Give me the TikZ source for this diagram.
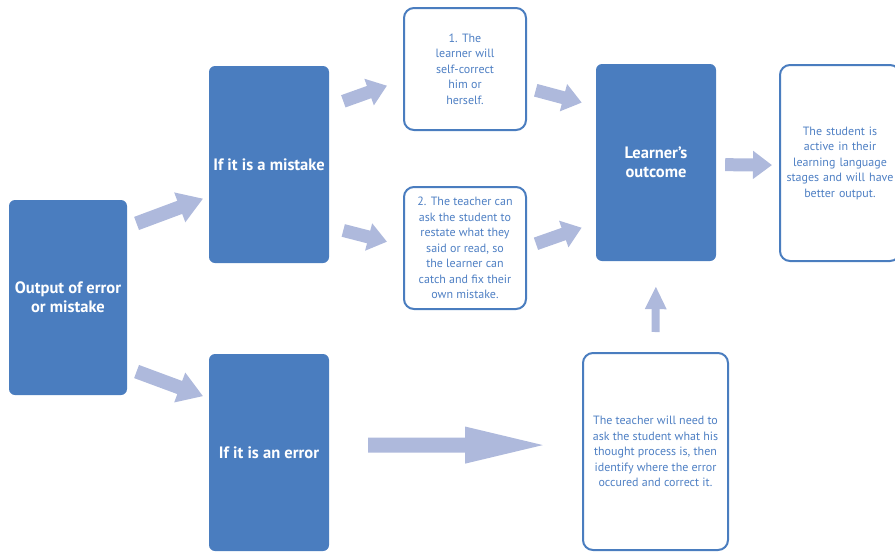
\documentclass[tikz,border=0pt]{standalone}
\usepackage{fontspec}
\setmainfont{PT Sans}
\usetikzlibrary{arrows.meta}
\definecolor{boxblue}{HTML}{4A7DBF}
\definecolor{txtblue}{HTML}{4F80C4}
\definecolor{arrowblue}{HTML}{AEB9DC}
\tikzset{
  solidbox/.style={rectangle,rounded corners=6pt,fill=boxblue,text=white,
    font=\bfseries\fontsize{16.5}{19}\selectfont,align=center,
    minimum width=120pt,minimum height=197pt,inner sep=0pt},
  linebox/.style={rectangle,rounded corners=10pt,draw=boxblue,line width=2pt,
    fill=white,text=txtblue,font=\fontsize{12}{15.5}\selectfont,align=center,inner sep=0pt},
  bigarrow/.style={arrowblue,line width=14pt,-{Triangle[length=25pt,width=30pt]}},
  smallarrow/.style={arrowblue,line width=13pt,-{Triangle[length=19pt,width=27pt]}}
}
\begin{document}
\begin{tikzpicture}[x=1pt,y=-1pt]
\useasboundingbox(0,0)rectangle(895,552);
%filled boxes
\node[solidbox,minimum width=118pt,minimum height=195pt](out)at(68,297.5){Output of error\\or mistake};
\node[solidbox](mistake)at(269,164.5){If it is a mistake};
\node[solidbox](error)at(269,452.5){If it is an error};
\node[solidbox](outcome)at(656,162.5){Learner’s\\outcome};
%outlined boxes
\node[linebox,minimum width=122pt,minimum height=122pt](self)at(465,69){1. The\\learner will\\self-correct\\him or\\herself.};
\node[linebox,minimum width=122pt,minimum height=122pt](restate)at(465,248){2. The teacher can\\ask the student to\\restate what they\\said or read, so\\the learner can\\catch and fix their\\own mistake.};
\node[linebox,minimum width=120pt,minimum height=196pt,text width=112pt](result)at(840,163){The student is\\active in their\\learning language\\stages and will have\\better output.};
\node[linebox,minimum width=145pt,minimum height=197pt](teacher)at(655.5,451.5){The teacher will need to\\ask the student what his\\thought process is, then\\identify where the error\\occured and correct it.};
%arrows
\draw[bigarrow,shorten <=10pt,shorten >=6pt](out.50)--(mistake.208);
\draw[bigarrow,shorten <=10pt,shorten >=6pt](out.-50)--(error.138);
\draw[smallarrow,shorten <=15pt,shorten >=17pt](mistake.44)--(self.190);
\draw[smallarrow,shorten <=14.5pt,shorten >=16.5pt](mistake.-46)--(restate.178);
\draw[smallarrow,shorten <=9pt,shorten >=14.5pt](self.-17)--(outcome.137);
\draw[smallarrow,shorten <=9.5pt,shorten >=15pt](restate.1)--(outcome.225);
\draw[smallarrow,shorten <=9pt,shorten >=7pt](outcome.-2)--(result.182);
\draw[arrowblue,line width=15pt,-{Triangle[length=87pt,width=32pt]},shorten <=39pt,shorten >=30pt](error.7)--(teacher.175);
\draw[arrowblue,line width=8pt,-{Triangle[length=23pt,width=20pt]},shorten <=20pt,shorten >=25pt](teacher.north)--(outcome.south);
\end{tikzpicture}
\end{document}
